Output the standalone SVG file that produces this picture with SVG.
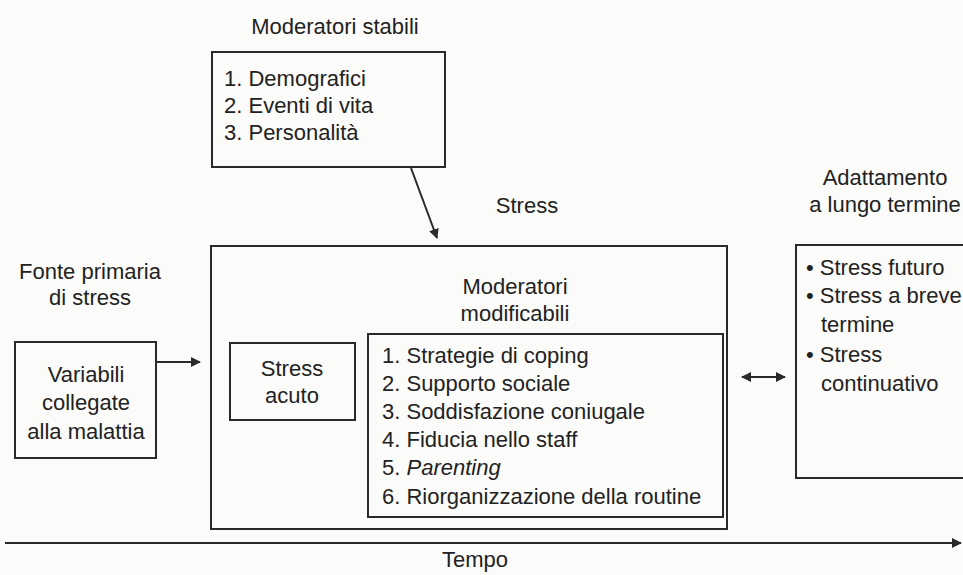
<svg xmlns="http://www.w3.org/2000/svg" width="963" height="575" viewBox="0 0 963 575">
  <defs>
    <marker id="head" viewBox="0 0 10 10" refX="9" refY="5" markerWidth="5" markerHeight="5" orient="auto-start-reverse" markerUnits="strokeWidth">
      <path d="M0,0 L10,5 L0,10 z" fill="#2a2a2a"/>
    </marker>
  </defs>
  <style>
    text { font-family: "Liberation Sans", Arial, sans-serif; fill: #222; font-size: 22px; }
    .c { text-anchor: middle; }
    .box { fill: none; stroke: #2a2a2a; stroke-width: 2; }
    .link { fill: none; stroke: #2a2a2a; stroke-width: 2; }
  </style>
  <rect width="963" height="575" fill="#fbfbfa"/>

  <!-- stable moderators -->
  <g id="moderatori-stabili">
    <text class="c" x="335" y="34">Moderatori stabili</text>
    <rect class="box" x="212" y="52" width="233" height="115"/>
    <text x="224" y="86">1. Demografici</text>
    <text x="224" y="113">2. Eventi di vita</text>
    <text x="224" y="140">3. Personalità</text>
  </g>

  <!-- primary source -->
  <g id="fonte-primaria">
    <text class="c" x="90" y="279">Fonte primaria</text>
    <text class="c" x="90" y="305">di stress</text>
    <rect class="box" x="15" y="342" width="141" height="116"/>
    <text class="c" x="86" y="382">Variabili</text>
    <text class="c" x="86" y="410">collegate</text>
    <text class="c" x="86" y="439">alla malattia</text>
  </g>

  <!-- stress -->
  <g id="stress">
    <text class="c" x="527" y="213">Stress</text>
    <rect class="box" x="211" y="246" width="516" height="283"/>
  </g>

  <g id="stress-acuto">
    <rect class="box" x="230" y="343" width="125" height="77"/>
    <text class="c" x="292" y="376">Stress</text>
    <text class="c" x="292" y="403">acuto</text>
  </g>

  <g id="moderatori-modificabili">
    <text class="c" x="515" y="294">Moderatori</text>
    <text class="c" x="515" y="321">modificabili</text>
    <rect class="box" x="368" y="334" width="355" height="183"/>
    <text x="382" y="363">1. Strategie di coping</text>
    <text x="382" y="391">2. Supporto sociale</text>
    <text x="382" y="419">3. Soddisfazione coniugale</text>
    <text x="382" y="447">4. Fiducia nello staff</text>
    <text x="382" y="475">5. <tspan font-style="italic">Parenting</tspan></text>
    <text x="382" y="504">6. Riorganizzazione della routine</text>
  </g>

  <!-- long-term adaptation -->
  <g id="adattamento">
    <text class="c" x="885" y="185">Adattamento</text>
    <text class="c" x="885" y="212">a lungo termine</text>
    <rect class="box" x="796" y="245" width="180" height="233"/>
    <text x="806" y="275">• Stress futuro</text>
    <text x="806" y="303">• Stress a breve</text>
    <text x="821" y="332">termine</text>
    <text x="806" y="362">• Stress</text>
    <text x="821" y="391">continuativo</text>
  </g>

  <!-- time axis -->
  <g id="tempo">
    <text class="c" x="475" y="567" font-size="21">Tempo</text>
  </g>

  <g id="connectors">
    <line class="link" x1="411" y1="168" x2="437" y2="238" marker-end="url(#head)"/>
    <line class="link" x1="157" y1="362" x2="200" y2="362" marker-end="url(#head)"/>
    <line class="link" x1="742" y1="377" x2="785" y2="377" marker-start="url(#head)" marker-end="url(#head)"/>
    <line class="link" x1="5" y1="543" x2="961" y2="543" marker-end="url(#head)"/>
  </g>
</svg>
